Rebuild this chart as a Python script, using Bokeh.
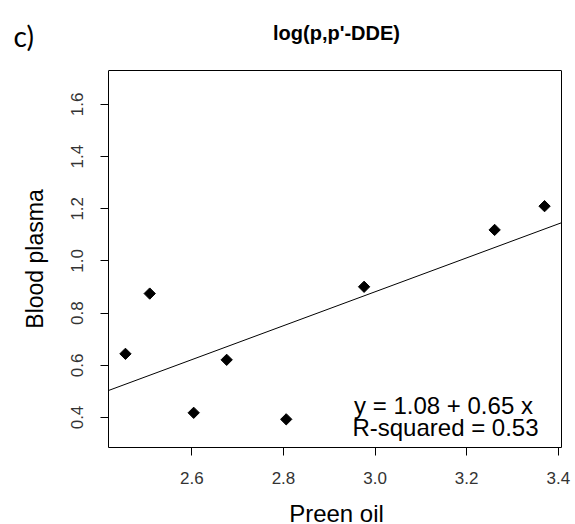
import numpy as np
from bokeh.plotting import figure
from bokeh.layouts import row, column
from bokeh.models import (Range1d, FixedTicker, Label, ColumnDataSource,
                          PrintfTickFormatter, LinearAxis, Span)
from bokeh.embed import file_html
from bokeh.resources import INLINE

# Data
preen_oil = [2.455, 2.508, 2.604, 2.676, 2.806, 2.976, 3.261, 3.370]
blood_plasma = [0.644, 0.875, 0.418, 0.621, 0.393, 0.901, 1.119, 1.210]
x_ticks = [2.6, 2.8, 3.0, 3.2, 3.4]
y_ticks = [0.4, 0.6, 0.8, 1.0, 1.2, 1.4, 1.6]
title_text = "log(p,p'-DDE)"
panel_text = "c)"
x_label = "Preen oil"
y_label = "Blood plasma"
eq_text = "y = 1.08 + 0.65 x"
r2_text = "R-squared = 0.53"

FONT = "Liberation Sans"
W, H = 575, 524
SIDE_W = 60          # left strip holding "c)" and the y-axis title
BOT_H = 30           # bottom strip holding the x-axis title
X_LIM = (2.418, 3.407)
Y_LIM = (0.285, 1.73)
BOX_LEFT_PX = 108
BOX_TOP_PX = 70      # top of plot box on canvas
FRAME_TOP_PX = 10    # frame extends above box so that the title can be drawn
BOTTOM_PX = 447
px_per_unit = (BOTTOM_PX - BOX_TOP_PX) / (Y_LIM[1] - Y_LIM[0])
y_end = Y_LIM[0] + (BOTTOM_PX - FRAME_TOP_PX) / px_per_unit


def strip(w, h):
    f = figure(width=w, height=h, frame_width=w, frame_height=h,
               output_backend="svg", toolbar_location=None,
               x_range=Range1d(0, w), y_range=Range1d(0, h),
               x_axis_location=None, y_axis_location=None,
               min_border=0, min_border_left=0, min_border_right=0,
               min_border_top=0, min_border_bottom=0)
    f.outline_line_color = None
    f.xgrid.visible = False
    f.ygrid.visible = False
    f.background_fill_color = "white"
    f.border_fill_color = "white"
    return f


# ---- left strip -------------------------------------------------------------
side = strip(SIDE_W, H)
side.text(x=[13], y=[H - 35], text=[panel_text], text_font={"value": "Lato"},
          text_font_size="28px", text_align="left", text_baseline="middle",
          text_color="black")
side.text(x=[34], y=[H - (BOX_TOP_PX + BOTTOM_PX) / 2], text=[y_label], angle=np.pi / 2,
          text_font={"value": FONT}, text_font_size="23px", text_align="center",
          text_baseline="middle", text_color="black")

# ---- bottom strip (its frame is aligned with the main frame by the column) --
bottom = strip(W - SIDE_W, BOT_H)
bottom.text(x=[336 - BOX_LEFT_PX], y=[11], text=[x_label], text_font={"value": FONT},
            text_font_size="24px", text_align="center", text_baseline="middle",
            text_color="black")

# ---- main plot --------------------------------------------------------------
p = figure(width=W - SIDE_W, height=H - BOT_H, output_backend="svg", toolbar_location=None,
           x_range=Range1d(*X_LIM), y_range=Range1d(Y_LIM[0], y_end),
           min_border_left=BOX_LEFT_PX - SIDE_W, min_border_right=14,
           min_border_top=FRAME_TOP_PX, min_border_bottom=H - BOT_H - BOTTOM_PX)
p.background_fill_color = "white"
p.border_fill_color = "white"
p.outline_line_color = None
p.xgrid.visible = False
p.ygrid.visible = False

for ax in (p.xaxis[0], p.yaxis[0]):
    ax.axis_line_color = "black"
    ax.major_tick_line_color = "black"
    ax.major_tick_out = 8
    ax.major_tick_in = 0
    ax.minor_tick_line_color = None
    ax.major_label_text_font = FONT
    ax.major_label_text_font_size = "17px"
    ax.major_label_text_color = "#333333"
    ax.formatter = PrintfTickFormatter(format="%.1f")

p.xaxis.ticker = FixedTicker(ticks=x_ticks)
p.yaxis.ticker = FixedTicker(ticks=y_ticks)
p.yaxis.bounds = Y_LIM
p.xaxis.major_label_standoff = 16
p.yaxis.major_label_standoff = 17
p.yaxis.major_label_orientation = "vertical"

# right edge of the box
rax = LinearAxis(bounds=Y_LIM, ticker=FixedTicker(ticks=[]), axis_line_color="black",
                 major_tick_out=0, major_tick_in=0, minor_tick_line_color=None,
                 major_label_text_font_size="0px", major_label_standoff=0)
p.add_layout(rax, "right")
# top edge of the box
p.add_layout(Span(location=Y_LIM[1], dimension="width", line_color="black", line_width=1))

src = ColumnDataSource(dict(x=preen_oil, y=blood_plasma))
p.scatter("x", "y", source=src, marker="square", size=8, angle=np.pi / 4,
          fill_color="black", line_color="black")

slope, intercept = np.polyfit(preen_oil, blood_plasma, 1)
xs = list(X_LIM)
p.line(xs, [intercept + slope * v for v in xs], line_color="black", line_width=1)

p.add_layout(Label(x=335, y=42, x_units="screen", y_units="screen", text=eq_text,
                   text_font=FONT, text_font_size="24px", text_align="center",
                   text_baseline="middle", text_color="black"))
p.add_layout(Label(x=337, y=20, x_units="screen", y_units="screen", text=r2_text,
                   text_font=FONT, text_font_size="24px", text_align="center",
                   text_baseline="middle", text_color="black"))
p.add_layout(Label(x=336 - BOX_LEFT_PX, y=BOTTOM_PX - 32, x_units="screen", y_units="screen",
                   text=title_text, text_font=FONT, text_font_size="20px",
                   text_font_style="bold", text_align="center", text_baseline="middle",
                   text_color="black"))

layout = row(side, column(p, bottom, spacing=0), spacing=0)
open("out.html", "w").write(file_html(layout, INLINE))
